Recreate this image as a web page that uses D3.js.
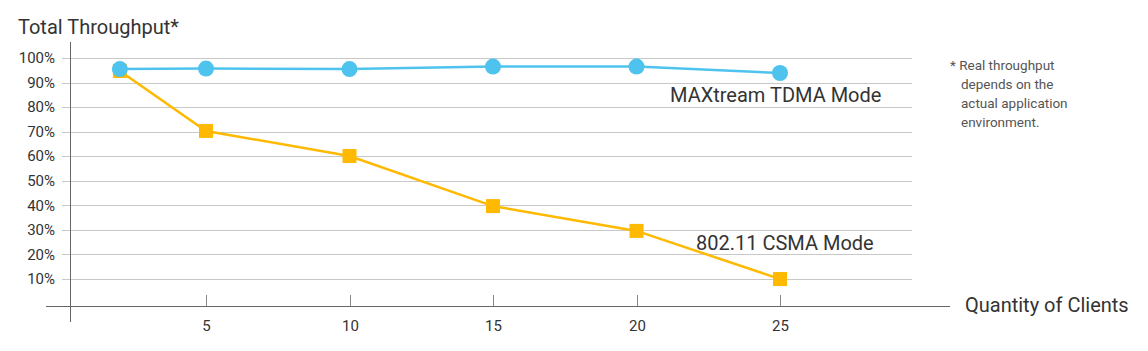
<!DOCTYPE html>
<html>
<head>
<meta charset="utf-8">
<script src="https://cdn.jsdelivr.net/npm/d3@7"></script>
<style>
  body { margin: 0; background: #fff; }
  svg text { font-family: Roboto, "Noto Sans", sans-serif; fill: #333; }
</style>
</head>
<body>
<div id="chart"></div>
<script>
// data
const clients = [2, 5, 10, 15, 20, 25];
const tdma = [95.5, 95.7, 95.5, 96.5, 96.5, 93.9];
const csma = [94.7, 70.3, 60.1, 39.7, 29.6, 10];
const xTicks = [5, 10, 15, 20, 25];
const yTicks = [10, 20, 30, 40, 50, 60, 70, 80, 90, 100];
const noteLines = ["* Real throughput", "depends on the", "actual application", "environment."];

const W = 1148, H = 351;
const blue = "#4dc3ee", orange = "#ffb900";

const svg = d3.select("#chart").append("svg")
  .attr("width", W).attr("height", H);

// scales: x axis line sits at 70, gridlines run to ~912
const x = d3.scaleLinear().domain([0, 25]).range([62.5, 780]);
const y = d3.scaleLinear().domain([0, 100]).range([303.6, 58]);

// horizontal gridlines
svg.append("g")
  .selectAll("line")
  .data(yTicks)
  .join("line")
  .attr("x1", 62).attr("x2", 912)
  .attr("y1", d => Math.round(y(d)) + 0.5).attr("y2", d => Math.round(y(d)) + 0.5)
  .attr("stroke", "#c8c8c8").attr("stroke-width", 1);

// y labels
svg.append("g")
  .selectAll("text")
  .data(yTicks)
  .join("text")
  .attr("x", 55).attr("y", d => y(d))
  .attr("dy", "0.35em")
  .attr("text-anchor", "end")
  .style("font-size", "15px")
  .text(d => d + "%");

// y axis line
svg.append("line")
  .attr("x1", 70.5).attr("x2", 70.5).attr("y1", 42).attr("y2", 322)
  .attr("stroke", "#666");

// x axis line
svg.append("line")
  .attr("x1", 46).attr("x2", 950).attr("y1", 306.5).attr("y2", 306.5)
  .attr("stroke", "#666");

// x ticks (pointing up) and labels
const xt = svg.append("g").selectAll("g")
  .data(xTicks)
  .join("g")
  .attr("transform", d => `translate(${Math.round(x(d)) + 0.5},0)`);
xt.append("line")
  .attr("y1", 295).attr("y2", 306)
  .attr("stroke", "#888");
xt.append("text")
  .attr("y", 331)
  .attr("text-anchor", "middle")
  .style("font-size", "15px")
  .text(d => d);

const line = d3.line()
  .x(d => x(d[0]))
  .y(d => y(d[1]));

const csmaPts = clients.map((c, i) => [c, csma[i]]);
const tdmaPts = clients.map((c, i) => [c, tdma[i]]);

// CSMA series
svg.append("path")
  .datum(csmaPts)
  .attr("d", line)
  .attr("fill", "none")
  .attr("stroke", orange)
  .attr("stroke-width", 2.5);
svg.append("g").selectAll("rect")
  .data(csmaPts)
  .join("rect")
  .attr("x", d => x(d[0]) - 7).attr("y", d => y(d[1]) - 7)
  .attr("width", 14).attr("height", 14)
  .attr("fill", orange);

// TDMA series
svg.append("path")
  .datum(tdmaPts)
  .attr("d", line)
  .attr("fill", "none")
  .attr("stroke", blue)
  .attr("stroke-width", 2.5);
svg.append("g").selectAll("circle")
  .data(tdmaPts)
  .join("circle")
  .attr("cx", d => x(d[0])).attr("cy", d => y(d[1]))
  .attr("r", 8)
  .attr("fill", blue);

// series labels
svg.append("text")
  .attr("x", 670).attr("y", 102)
  .style("font-size", "20px")
  .text("MAXtream TDMA Mode");
svg.append("text")
  .attr("x", 696).attr("y", 250)
  .style("font-size", "20px")
  .text("802.11 CSMA Mode");

// titles
svg.append("text")
  .attr("x", 18).attr("y", 34)
  .style("font-size", "20px")
  .text("Total Throughput*");
svg.append("text")
  .attr("x", 965).attr("y", 312)
  .style("font-size", "20px")
  .text("Quantity of Clients");

// footnote
svg.append("g").selectAll("text")
  .data(noteLines)
  .join("text")
  .attr("x", (d, i) => i === 0 ? 950 : 961)
  .attr("y", (d, i) => 70 + i * 19)
  .style("font-size", "13.5px")
  .style("fill", "#555")
  .text(d => d);
</script>
</body>
</html>
